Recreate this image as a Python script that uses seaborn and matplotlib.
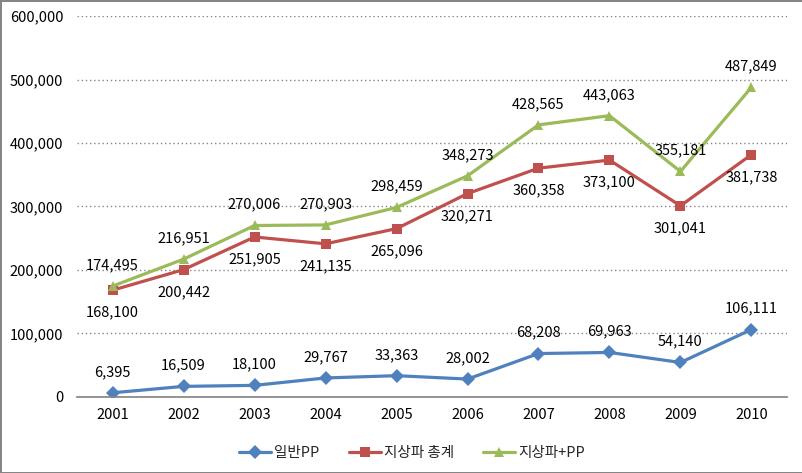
import pandas as pd
import matplotlib.pyplot as plt
import seaborn as sns

years = [2001, 2002, 2003, 2004, 2005, 2006, 2007, 2008, 2009, 2010]
general_pp = [6395, 16509, 18100, 29767, 33363, 28002, 68208, 69963, 54140, 106111]
terrestrial = [168100, 200442, 251905, 241135, 265096, 320271, 360358, 373100, 301041, 381738]
terr_plus_pp = [174495, 216951, 270006, 270903, 298459, 348273, 428565, 443063, 355181, 487849]
series_names = ["일반PP", "지상파 총계", "지상파+PP"]

sns.set_theme(style="white")
plt.rcParams['font.family'] = ['Noto Sans CJK KR', 'DejaVu Sans']

df = pd.DataFrame({"연도": years * 3,
                   "값": general_pp + terrestrial + terr_plus_pp,
                   "구분": sum([[n] * len(years) for n in series_names], [])})

colors = {"일반PP": "#4F81BD", "지상파 총계": "#C0504D", "지상파+PP": "#9BBB59"}
markers = {"일반PP": "D", "지상파 총계": "s", "지상파+PP": "^"}

fig = plt.figure(figsize=(8.03, 4.73), dpi=100)
fig.patch.set_edgecolor("#868686")
fig.patch.set_linewidth(2)
ax = fig.add_axes([0.096, 0.161, 0.884, 0.805])

sns.lineplot(data=df, x="연도", y="값", hue="구분", style="구분", palette=colors,
             markers=markers, dashes=False, linewidth=2.3, markersize=7,
             markeredgewidth=0, ax=ax)

# data labels: red below, others above
offsets = {"일반PP": 15, "지상파 총계": -16, "지상파+PP": 15}
for name, vals in zip(series_names, [general_pp, terrestrial, terr_plus_pp]):
    for x, v in zip(years, vals):
        ax.annotate(f"{v:,}", (x, v), xytext=(0, offsets[name]), textcoords="offset points",
                    ha="center", va="center", fontsize=10.5, color="black")

ax.set_xlim(2000.5, 2010.5)
ax.set_ylim(0, 600000)
ax.set_xticks(years)
ax.set_yticks(range(0, 600001, 100000))
ax.set_yticklabels([f"{v:,}" for v in range(0, 600001, 100000)])
ax.tick_params(axis="both", labelsize=10.5, length=0, colors="black")
ax.tick_params(axis="x", pad=8)
ax.tick_params(axis="y", pad=10)
ax.yaxis.grid(True, linestyle=(0, (1, 2)), color="#868686", linewidth=1)
ax.set_axisbelow(True)
for s in ["left", "right", "top"]:
    ax.spines[s].set_visible(False)
ax.spines["bottom"].set_color("#868686")
ax.set(xlabel="", ylabel="")

handles, labels = ax.get_legend_handles_labels()
ax.legend_.remove()
fig.legend(handles, labels, loc="center", bbox_to_anchor=(0.513, 0.043), ncol=3,
           frameon=False, fontsize=10.5, handlelength=2.2, columnspacing=2.0, handletextpad=0.2)

plt.savefig("out.png", dpi=100, edgecolor=fig.get_edgecolor())
